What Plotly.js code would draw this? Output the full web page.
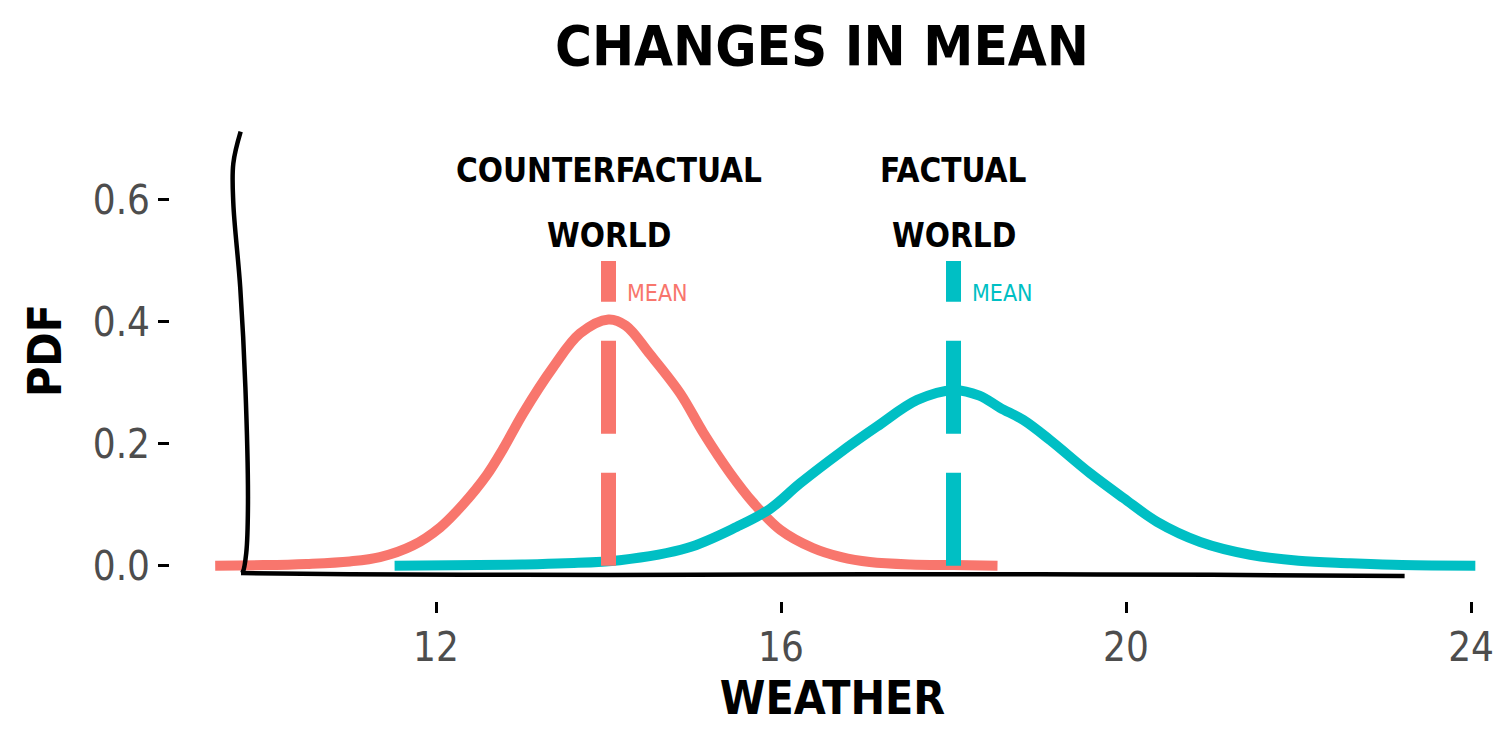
<!DOCTYPE html>
<html>
<head>
<meta charset="utf-8">
<script src="https://cdn.plot.ly/plotly-3.0.1.min.js"></script>
<style>html,body{margin:0;padding:0;background:#fff;}#chart{width:1500px;height:750px;}</style>
</head>
<body>
<div id="chart"></div>
<script>
// ---- data ----
const counterfactualX = [9.44,10.0,10.5,11.0,11.35,11.73,12.05,12.31,12.59,12.78,13.01,13.36,13.67,14.0,14.2,14.48,14.83,15.10,15.41,15.68,15.99,16.37,16.7,17.03,17.5,18.0,18.51];
const counterfactualY = [0,0.001,0.003,0.007,0.014,0.033,0.063,0.100,0.149,0.192,0.25,0.326,0.381,0.404,0.394,0.347,0.283,0.218,0.152,0.103,0.059,0.029,0.014,0.006,0.002,0.001,0];
const factualX = [11.52,12.5,13.0,13.5,14.13,14.91,15.49,15.87,16.22,16.68,17.11,17.58,18.0,18.3,18.54,18.81,19.12,19.58,19.97,20.36,20.86,21.44,22.0,22.6,23.2,24.05];
const factualY = [0,0.001,0.002,0.004,0.009,0.029,0.064,0.093,0.135,0.185,0.228,0.272,0.288,0.279,0.259,0.239,0.206,0.152,0.111,0.072,0.039,0.018,0.008,0.004,0.001,0];
const means = [14, 18];
const meanLineTop = 0.5;
const worldLabelsTop = ['COUNTERFACTUAL', 'FACTUAL'];
const worldLabelsBottom = ['WORLD', 'WORLD'];
const meanLabel = 'MEAN';
const xTicks = [12, 16, 20, 24];
const yTicks = [0, 0.2, 0.4, 0.6];
const yTickText = ['0.0', '0.2', '0.4', '0.6'];
// hand-drawn axis lines
const yAxisLineX = [9.735, 9.65, 9.65, 9.73, 9.79, 9.82, 9.80, 9.76, 9.74];
const yAxisLineY = [0.712, 0.66, 0.595, 0.457, 0.293, 0.103, 0.021, -0.010, -0.012];
const xAxisLineX = [9.74, 11, 13, 15, 17, 19, 21, 23.23];
const xAxisLineY = [-0.012, -0.014, -0.015, -0.015, -0.014, -0.014, -0.015, -0.017];

const RED = '#F8766D', CYAN = '#00BFC4';
const FONT = '"DejaVu Sans Condensed", "Liberation Sans Narrow", "DejaVu Sans", sans-serif';

const traces = [
  {x: counterfactualX, y: counterfactualY, mode: 'lines', line: {color: RED, width: 10, shape: 'spline', smoothing: 1}, hoverinfo: 'skip'},
  {x: factualX, y: factualY, mode: 'lines', line: {color: CYAN, width: 10, shape: 'spline', smoothing: 1}, hoverinfo: 'skip'},
  {x: [means[0], means[0]], y: [0, meanLineTop], mode: 'lines', line: {color: RED, width: 15, dash: '93px,39px'}, hoverinfo: 'skip'},
  {x: [means[1], means[1]], y: [0, meanLineTop], mode: 'lines', line: {color: CYAN, width: 15, dash: '93px,39px'}, hoverinfo: 'skip'},
  {x: yAxisLineX, y: yAxisLineY, mode: 'lines', line: {color: '#000', width: 4.5, shape: 'spline'}, hoverinfo: 'skip'},
  {x: xAxisLineX, y: xAxisLineY, mode: 'lines', line: {color: '#000', width: 4.5, shape: 'spline'}, hoverinfo: 'skip'}
];

const colors = [RED, CYAN];
const annotations = [];
means.forEach((m, i) => {
  annotations.push({x: m, y: 0.649, text: worldLabelsTop[i], showarrow: false, xanchor: 'center', yanchor: 'middle',
    font: {family: FONT, size: 33, color: '#000', weight: 'bold'}});
  annotations.push({x: m, y: 0.542, text: worldLabelsBottom[i], showarrow: false, xanchor: 'center', yanchor: 'middle',
    font: {family: FONT, size: 33, color: '#000', weight: 'bold'}});
  annotations.push({x: m + 0.19, y: 0.447, text: meanLabel, showarrow: false, xanchor: 'left', yanchor: 'middle',
    font: {family: FONT, size: 23, color: colors[i]}});
});

const layout = {
  width: 1500, height: 750,
  margin: {l: 170, r: 5, t: 100, b: 149},
  paper_bgcolor: '#fff', plot_bgcolor: '#fff',
  showlegend: false,
  title: {text: 'CHANGES IN MEAN', x: 0.548, xref: 'container', xanchor: 'center', y: 0.94, yref: 'container', yanchor: 'middle',
    font: {family: FONT, size: 56, color: '#000', weight: 'bold'}},
  xaxis: {
    range: [8.916, 24.278], showgrid: false, zeroline: false, showline: false,
    tickvals: xTicks, ticktext: xTicks.map(String),
    ticks: 'outside', ticklen: 11, tickwidth: 3, tickcolor: '#000',
    tickfont: {family: FONT, size: 40, color: '#4D4D4D'},
    title: {text: 'WEATHER', standoff: 12, font: {family: FONT, size: 46, color: '#000', weight: 'bold'}},
    automargin: false, fixedrange: true
  },
  yaxis: {
    range: [-0.0579, 0.764], showgrid: false, zeroline: false, showline: false,
    tickvals: yTicks, ticktext: yTickText,
    ticks: 'outside', ticklen: 11, tickwidth: 3, tickcolor: '#000',
    tickfont: {family: FONT, size: 40, color: '#4D4D4D'},
    title: {text: 'PDF', standoff: 16, font: {family: FONT, size: 46, color: '#000', weight: 'bold'}},
    automargin: false, fixedrange: true
  },
  annotations: annotations
};

Plotly.newPlot('chart', traces, layout, {displayModeBar: false, staticPlot: true});
</script>
</body>
</html>
